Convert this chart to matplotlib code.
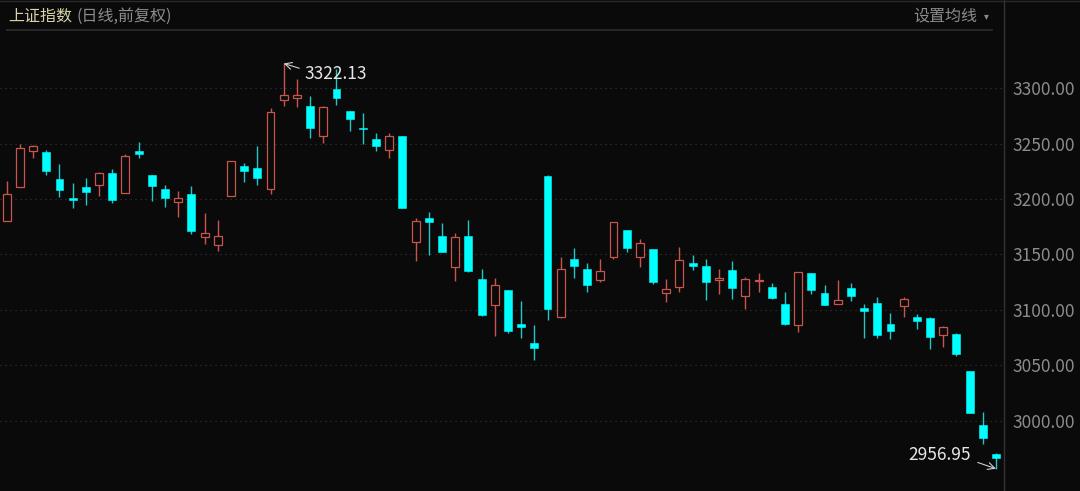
import numpy as np
import matplotlib.pyplot as plt
from matplotlib.lines import Line2D

# daily OHLC (76 sessions)
opens = [3180.4, 3211.0, 3243.5, 3242.3, 3218.0, 3200.5, 3210.8, 3212.9, 3223.1, 3205.1,
         3243.0, 3221.3, 3209.3, 3197.0, 3204.5, 3165.5, 3158.8, 3203.0, 3230.0, 3227.6,
         3209.0, 3289.4, 3291.0, 3284.0, 3256.5, 3298.8, 3279.3, 3263.5, 3253.8, 3244.4,
         3256.8, 3161.3, 3182.6, 3166.4, 3138.7, 3167.0, 3127.7, 3104.8, 3118.0, 3087.4,
         3070.5, 3221.0, 3093.4, 3146.2, 3136.7, 3127.3, 3147.4, 3172.1, 3148.0, 3154.7,
         3115.6, 3121.0, 3142.3, 3139.9, 3126.7, 3136.0, 3112.3, 3125.9, 3120.7, 3105.1,
         3086.2, 3133.3, 3115.6, 3105.7, 3119.5, 3101.8, 3106.3, 3087.4, 3103.3, 3093.7,
         3093.1, 3077.5, 3078.6, 3045.0, 2996.4, 2970.5]
highs = [3216.2, 3249.5, 3249.0, 3244.0, 3231.8, 3214.0, 3218.6, 3224.0, 3226.8, 3240.5,
         3251.4, 3221.5, 3212.6, 3207.2, 3211.7, 3187.7, 3181.1, 3234.4, 3232.7, 3247.7,
         3282.3, 3322.13, 3308.1, 3292.8, 3283.5, 3317.0, 3279.5, 3277.2, 3259.2, 3259.5,
         3257.0, 3182.6, 3188.0, 3178.4, 3169.4, 3180.8, 3136.7, 3128.6, 3118.2, 3107.8,
         3086.8, 3221.2, 3148.0, 3156.1, 3142.0, 3146.0, 3179.5, 3172.2, 3164.0, 3155.0,
         3127.9, 3156.8, 3149.5, 3146.0, 3137.0, 3144.0, 3130.0, 3133.3, 3124.0, 3116.2,
         3134.2, 3133.5, 3122.2, 3127.0, 3124.0, 3105.1, 3111.4, 3097.0, 3111.7, 3096.4,
         3093.3, 3086.0, 3079.0, 3045.2, 3007.8, 2970.7]
lows = [3180.2, 3211.0, 3237.0, 3221.6, 3202.0, 3191.6, 3194.9, 3202.7, 3196.1, 3205.0,
        3237.2, 3198.2, 3192.5, 3184.0, 3168.7, 3159.5, 3153.2, 3202.8, 3215.0, 3212.6,
        3204.2, 3283.8, 3282.6, 3255.0, 3250.2, 3284.7, 3261.3, 3249.3, 3243.5, 3237.2,
        3191.7, 3144.4, 3149.8, 3152.2, 3125.9, 3134.6, 3095.0, 3076.8, 3079.5, 3075.0,
        3055.0, 3091.0, 3093.2, 3129.1, 3116.0, 3125.5, 3145.7, 3152.3, 3139.0, 3123.4,
        3107.5, 3116.0, 3136.3, 3108.7, 3114.7, 3109.6, 3100.6, 3116.0, 3110.3, 3086.9,
        3080.4, 3114.7, 3104.5, 3105.5, 3108.1, 3075.0, 3075.0, 3074.0, 3094.0, 3083.2,
        3065.0, 3066.9, 3058.6, 3006.8, 2979.3, 2956.95]
closes = [3204.5, 3246.2, 3248.0, 3225.5, 3207.8, 3199.5, 3206.3, 3223.7, 3199.1, 3238.7,
          3240.3, 3212.0, 3200.6, 3201.2, 3171.4, 3169.6, 3166.7, 3234.2, 3225.5, 3219.2,
          3278.4, 3293.7, 3293.7, 3264.2, 3283.2, 3291.3, 3271.8, 3262.8, 3247.5, 3256.5,
          3191.9, 3179.9, 3179.0, 3152.5, 3165.5, 3134.9, 3095.2, 3122.3, 3080.8, 3084.7,
          3066.0, 3100.6, 3137.2, 3139.6, 3122.8, 3134.9, 3179.3, 3156.1, 3160.0, 3125.0,
          3118.6, 3145.0, 3139.4, 3125.0, 3128.8, 3120.1, 3127.9, 3126.7, 3110.5, 3087.1,
          3134.0, 3117.7, 3104.8, 3109.3, 3112.9, 3099.4, 3077.5, 3081.4, 3109.9, 3090.4,
          3075.7, 3085.0, 3060.4, 3006.9, 2985.0, 2966.7]
yticks = [3000, 3050, 3100, 3150, 3200, 3250, 3300]

BG = "#0a0a0a"
RED = "#c9544e"
CYAN = "#00ffff"
GRAY = "#8c8c8c"
FONTS = ["Noto Sans CJK SC", "DejaVu Sans"]

o = np.array(opens)
h = np.array(highs)
l = np.array(lows)
c = np.array(closes)
x = np.arange(len(o))
up = c >= o

fig = plt.figure(figsize=(10.8, 4.91), dpi=100, facecolor=BG)
ax = fig.add_axes([0, 0, 1003 / 1080, 1])
ax.set_facecolor(BG)

# wicks then bodies (hollow red covers its own wick)
ax.vlines(x[up], l[up], h[up], color=RED, lw=1.0, zorder=2)
ax.vlines(x[~up], l[~up], h[~up], color="#1fc8c8", lw=1.0, zorder=2)
bottom = np.minimum(o, c)
height = np.maximum(np.abs(c - o), 1.3)
ax.bar(x[up], height[up], bottom=bottom[up], width=0.6, facecolor=BG,
       edgecolor=RED, linewidth=0.9, zorder=3)
ax.bar(x[~up], height[~up], bottom=bottom[~up], width=0.6, facecolor=CYAN,
       edgecolor=CYAN, linewidth=0.4, zorder=3)

ax.set_xlim(-0.508, 75.53)
ax.set_ylim(2936.9, 3379.3)
ax.set_xticks([])
ax.yaxis.tick_right()
ax.set_yticks(yticks)
ax.set_yticklabels([f"{v:.2f}" for v in yticks])
ax.tick_params(axis="y", length=0, pad=6.5, labelcolor=GRAY, labelsize=12.5)
for lbl in ax.get_yticklabels():
    lbl.set_family(FONTS)
ax.grid(axis="y", color="#3a3a3a", linestyle=(0, (1, 3.5)), linewidth=0.8)
ax.set_axisbelow(True)
for s in ax.spines.values():
    s.set_visible(False)

# max / min markers
imax = int(np.argmax(h))
imin = int(np.argmin(l))
ax.annotate(f"{h[imax]:.2f}", xy=(imax, h[imax]), xytext=(21, -11),
            textcoords="offset pixels", ha="left", va="center", color="#e6e6e6",
            fontsize=12.5, family=FONTS, zorder=5,
            arrowprops=dict(arrowstyle="->", color="#cfcfcf", lw=0.8,
                            relpos=(0, 0.75), shrinkA=2, shrinkB=0))
ax.annotate(f"{l[imin]:.2f}", xy=(imin, l[imin]), xytext=(-25, 14),
            textcoords="offset pixels", ha="right", va="center", color="#e6e6e6",
            fontsize=12.5, family=FONTS, zorder=5,
            arrowprops=dict(arrowstyle="->", color="#cfcfcf", lw=0.8,
                            relpos=(1, 0.2), shrinkA=3, shrinkB=0))

# frame lines and header
fig.add_artist(Line2D([1003.5 / 1080] * 2, [0, 1], color="#333333", lw=1))
fig.add_artist(Line2D([0, 1], [1 - 0.5 / 491] * 2, color="#2a2a2a", lw=1))
fig.add_artist(Line2D([7 / 1080, 992 / 1080], [1 - 29.5 / 491] * 2, color="#2e2e2e", lw=1.2))
ty = 1 - 16 / 491
fig.text(8 / 1080, ty, "上证指数", color="#d8d3a8", fontsize=11.5, family=FONTS, va="center")
fig.text(76 / 1080, ty, "(日线,前复权)", color=GRAY, fontsize=11.5, family=FONTS, va="center")
fig.text(913 / 1080, ty, "设置均线", color=GRAY, fontsize=11.5, family=FONTS, va="center")
fig.text(986 / 1080, ty, "▾", color=GRAY, fontsize=7, family=["DejaVu Sans"],
         va="center", ha="center")

fig.savefig("out.png", dpi=100, facecolor=BG)
plt.close(fig)
